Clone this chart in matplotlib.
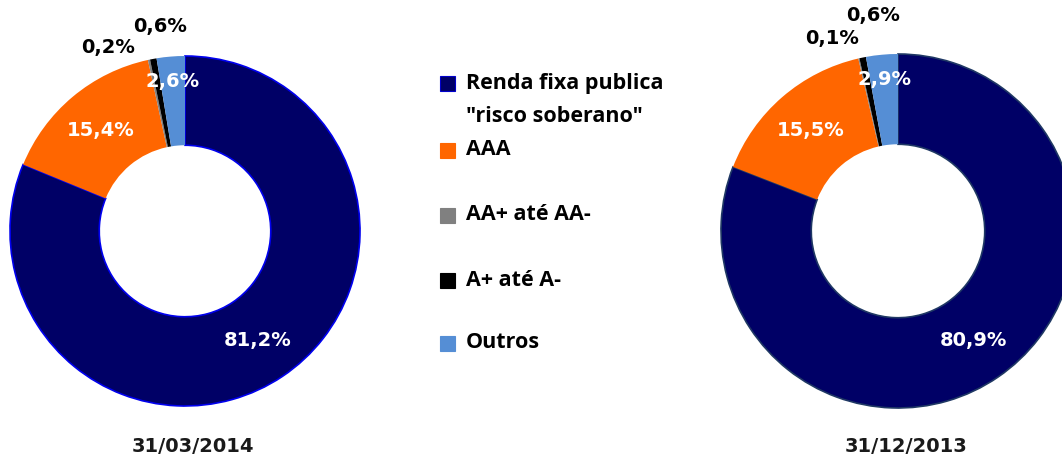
import numpy as np
import matplotlib
matplotlib.use('Agg')
import matplotlib.pyplot as plt
from matplotlib.patches import Rectangle

# data
categorias = ['Renda fixa publica\n"risco soberano"', 'AAA', 'AA+ até AA-', 'A+ até A-', 'Outros']
cores = ['#000066', '#FF6600', '#808080', '#000000', '#558ED5']
val_2014 = [81.2, 15.4, 0.2, 0.6, 2.6]
val_2013 = [80.9, 15.5, 0.1, 0.6, 2.9]
rotulos_2014 = ['81,2%', '15,4%', '0,2%', '0,6%', '2,6%']
rotulos_2013 = ['80,9%', '15,5%', '0,1%', '0,6%', '2,9%']
datas = ['31/03/2014', '31/12/2013']

W, H = 1062, 457
fig = plt.figure(figsize=(W / 100, H / 100), dpi=100)


def donut(cx, cy, r, vals, rotulos, data, borda, small_pos):
    # cx, cy in pixels from top-left, r in pixels
    ax = fig.add_axes([(cx - r) / W, (H - cy - r) / H, 2 * r / W, 2 * r / H])
    wedges, _ = ax.pie(vals, colors=cores, startangle=90, counterclock=False,
                       radius=1, wedgeprops=dict(width=0.51, linewidth=0))
    wedges[0].set_edgecolor(borda)
    wedges[0].set_linewidth(1.2)
    ax.set_xlim(-1, 1)
    ax.set_ylim(-1, 1)
    ax.set_aspect('auto')
    ax.axis('off')
    for i, w in enumerate(wedges):
        ang = np.deg2rad((w.theta1 + w.theta2) / 2)
        if i in small_pos:
            x, y = small_pos[i]
            ax.text(x, y, rotulos[i], color='black', ha='center', va='center',
                    fontsize=14, fontweight='bold', clip_on=False)
        else:
            d = 0.75 if i != 4 else 0.86
            ax.text(d * np.cos(ang), d * np.sin(ang), rotulos[i], color='white',
                    ha='center', va='center', fontsize=14, fontweight='bold')
    fig.text((cx + 8) / W, 1 - 447 / H, data, ha='center', va='center',
             fontsize=14, fontweight='bold', color='#1a1a1a')


donut(185, 231, 175, val_2014, rotulos_2014, datas[0], '#0000EE',
      {2: (-0.44, 1.05), 3: (-0.14, 1.17)})

# legend (clipped on the right like the original text box)
leg_y = [83, 150, 215, 280, 343]
for cat, cor, y in zip(categorias, cores, leg_y):
    fig.patches.append(Rectangle((440 / W, 1 - (y + 8) / H), 15 / W, 15 / H,
                                 facecolor=cor, edgecolor='#0000CC' if cor == '#000066' else cor,
                                 linewidth=0.8, transform=fig.transFigure, figure=fig))
    ty = y + 17 if '\n' in cat else y
    t = fig.text(466 / W, 1 - ty / H, cat, ha='left', va='center',
                 fontsize=15.5, fontweight='bold', family='Open Sans', linespacing=1.75)
    clip = Rectangle((0, 0), 665 / W, 1, transform=fig.transFigure)
    t.set_clip_path(clip)
    t.set_clip_on(True)

donut(898, 231, 177, val_2013, rotulos_2013, datas[1], '#1F3864',
      {2: (-0.37, 1.09), 3: (-0.14, 1.22)})

fig.savefig('out.png', dpi=100)
